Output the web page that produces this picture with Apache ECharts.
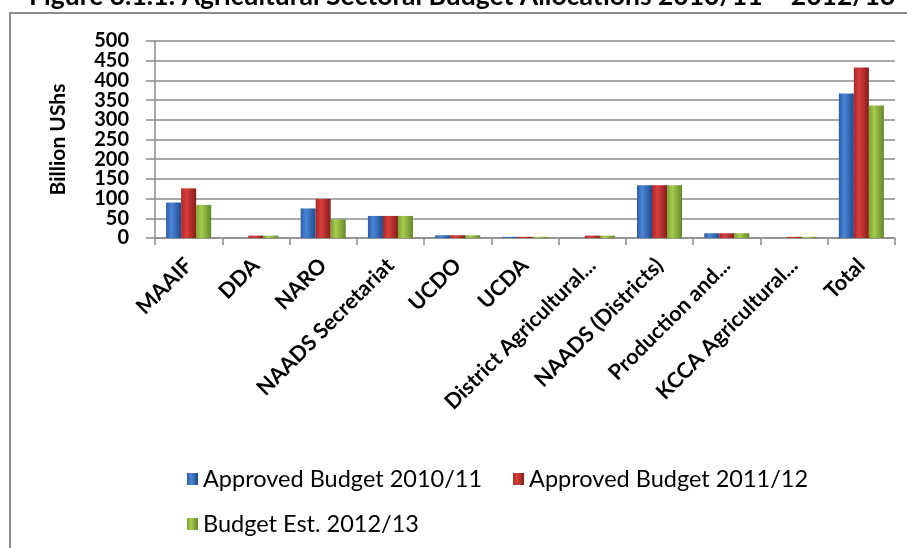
<!DOCTYPE html>
<html>
<head>
<meta charset="utf-8">
<script src="https://cdn.jsdelivr.net/npm/echarts@6/dist/echarts.min.js"></script>
<style>
html,body{margin:0;padding:0;background:#fff;}
#chart{width:907px;height:548px;}
</style>
</head>
<body>
<div id="chart"></div>
<script>
var titleText = 'Figure 3.1.1: Agricultural Sectoral Budget Allocations 2010/11 \u2013 2012/13';
var yAxisName = 'Billion UShs';
var categories = ['MAAIF', 'DDA', 'NARO', 'NAADS Secretariat', 'UCDO', 'UCDA',
  'District Agricultural...', 'NAADS (Districts)', 'Production and...', 'KCCA Agricultural...', 'Total'];
var seriesNames = ['Approved Budget 2010/11', 'Approved Budget 2011/12', 'Budget Est. 2012/13'];
var approved2010 = [90, 0, 75, 56, 7, 3, 0, 134, 12, 0, 367];
var approved2011 = [126, 6, 99, 56, 7, 3, 6, 134, 12, 3, 433];
var estimate2012 = [84, 6, 47, 56, 7, 3, 6, 134, 12, 3, 336];
var yMin = 0, yMax = 500, yStep = 50;

function grad(c0, c1, c2) {
  return new echarts.graphic.LinearGradient(0, 0, 1, 0, [
    {offset: 0, color: c0}, {offset: 0.35, color: c1}, {offset: 1, color: c2}
  ]);
}
var fills = [
  grad('#2c5ca8', '#4a86d6', '#1f4a8c'),
  grad('#a82624', '#d8403c', '#861c1a'),
  grad('#7aa232', '#a6cd4e', '#64862a')
];
var dataSets = [approved2010, approved2011, estimate2012];

var chart = echarts.init(document.getElementById('chart'));
var font = 'Lato, "DejaVu Sans", sans-serif';
var yLabelStyle = {margin: 26, fontFamily: font, fontWeight: 'bold', fontSize: 20, color: '#000'};
var axisGray = {color: '#8c8c8c', width: 1.5};
chart.setOption({
  animation: false,
  backgroundColor: '#fff',
  graphic: [
    {type: 'rect', shape: {x: 10, y: 13, width: 920, height: 560},
     style: {fill: 'none', stroke: '#8c8c8c', lineWidth: 2}, z: -1},
    {type: 'text', left: 29, top: -17,
     style: {text: titleText, font: 'bold 26.5px ' + font, fill: '#000'}}
  ],
  grid: {left: 155, right: 12, top: 41, bottom: 310, containLabel: false},
  legend: [
    {data: seriesNames.slice(0, 2), left: 182, top: 462, itemWidth: 11, itemHeight: 12, itemGap: 31,
     icon: 'rect', textStyle: {fontFamily: font, fontSize: 23.5, color: '#000'}},
    {data: seriesNames.slice(2), left: 182, top: 507, itemWidth: 11, itemHeight: 12,
     icon: 'rect', textStyle: {fontFamily: font, fontSize: 23.5, color: '#000'}}
  ],
  xAxis: {
    type: 'category', data: categories,
    axisLine: {lineStyle: axisGray},
    axisTick: {show: true, length: 7, lineStyle: axisGray},
    axisLabel: {rotate: 45, interval: 0, margin: 24, fontFamily: font, fontWeight: 'bold',
      fontSize: 21.5, color: '#000'}
  },
  yAxis: [
    {
      type: 'value', min: yMin, max: yMax, interval: yStep, position: 'left',
      name: yAxisName, nameLocation: 'middle', nameGap: 86,
      nameTextStyle: {fontFamily: font, fontWeight: 'bold', fontSize: 21, color: '#000'},
      axisLine: {show: true, lineStyle: axisGray},
      axisTick: {show: true, length: 9, lineStyle: axisGray},
      axisLabel: Object.assign({showMinLabel: false, showMaxLabel: false}, yLabelStyle),
      splitLine: {show: true, lineStyle: {color: '#a8a8a8', width: 2}}
    },
    {
      type: 'value', min: yMin, max: yMax, interval: yMax - yMin, position: 'left', offset: 0,
      axisLine: {show: false},
      axisTick: {show: true, length: 9, lineStyle: axisGray},
      axisLabel: yLabelStyle,
      splitLine: {show: false}
    }
  ],
  series: seriesNames.map(function (n, i) {
    return {
      name: n, type: 'bar', data: dataSets[i], yAxisIndex: 0,
      barGap: '0%', barCategoryGap: '33%',
      itemStyle: {color: fills[i]}
    };
  })
});
</script>
</body>
</html>
